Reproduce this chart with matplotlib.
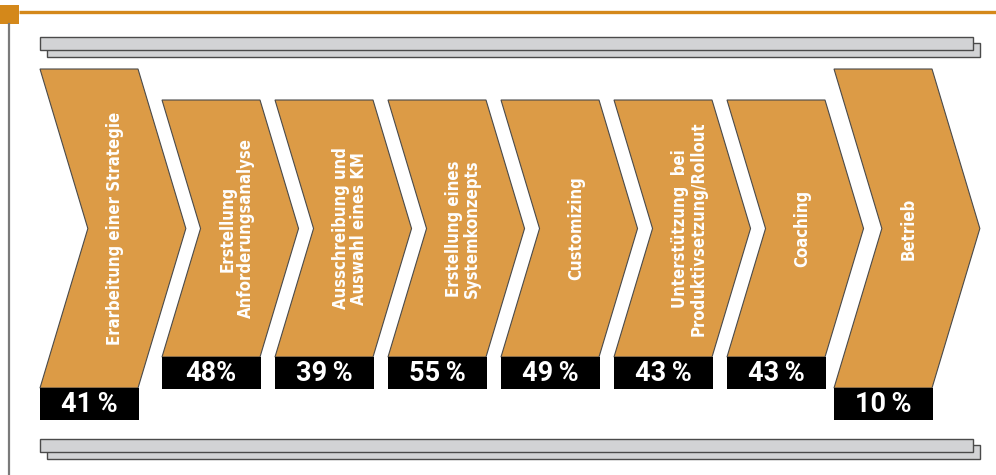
import matplotlib.pyplot as plt
from matplotlib.patches import Polygon, Rectangle

# process steps and shares
steps = ['Erarbeitung einer Strategie',
         'Erstellung\nAnforderungsanalyse',
         'Ausschreibung und\nAuswahl eines KM',
         'Erstellung eines\nSystemkonzepts',
         'Customizing',
         'Unterstützung  bei\nProduktivsetzung/Rollout',
         'Coaching',
         'Betrieb']
shares = ['41\u2009%', '48%', '39\u2009%', '55\u2009%', '49\u2009%', '43\u2009%', '43\u2009%', '10\u2009%']
big = [True, False, False, False, False, False, False, True]
lefts = [40, 162, 275, 388, 501, 614, 727, 834]

orange = '#DC9B46'
accent = '#D4881A'
grey = '#D2D3D5'
edge = '#4a4a4a'

fig = plt.figure(figsize=(9.96, 4.75), dpi=100)
ax = fig.add_axes([0, 0, 1, 1])
ax.set_xlim(0, 996)
ax.set_ylim(475, 0)
ax.axis('off')

# header line, square and left rule
ax.plot([19, 996], [11.5, 11.5], color=accent, lw=2.4, solid_capstyle='butt')
ax.add_patch(Rectangle((0, 5), 19, 19, color=accent, lw=0))
ax.plot([8.5, 8.5], [24, 475], color='#7a7a7a', lw=1.6)

# grey rails
for y in (37, 439):
    ax.add_patch(Rectangle((47, y + 6), 933, 14, fc=grey, ec=edge, lw=1.0))
    ax.add_patch(Rectangle((40, y), 933, 13, fc=grey, ec=edge, lw=1.0))

w = 98
slope = 0.3
for label, pct, b, x0 in zip(steps, shares, big, lefts):
    top, bot = (69, 388) if b else (100, 357)
    mid = (top + bot) / 2
    d = (mid - top) * slope
    pts = [(x0, top), (x0 + w, top), (x0 + w + d, mid), (x0 + w, bot),
           (x0, bot), (x0 + d, mid)]
    ax.add_patch(Polygon(pts, closed=True, fc=orange, ec=edge, lw=0.8))
    ax.text(x0 + 75, mid, label, rotation=90, ha='center', va='center',
            color='white', fontsize=12, fontweight='bold',
            fontstretch='condensed', family='DejaVu Sans',
            multialignment='center', linespacing=1.05)
    ax.add_patch(Rectangle((x0, bot), w + 1, 32, color='black', lw=0))
    ax.text(x0 + w / 2, bot + 16.5, pct, ha='center', va='center',
            color='white', fontsize=19.5, fontweight='bold',
            family=['Roboto', 'DejaVu Sans'])

fig.savefig('out.png', dpi=100)
